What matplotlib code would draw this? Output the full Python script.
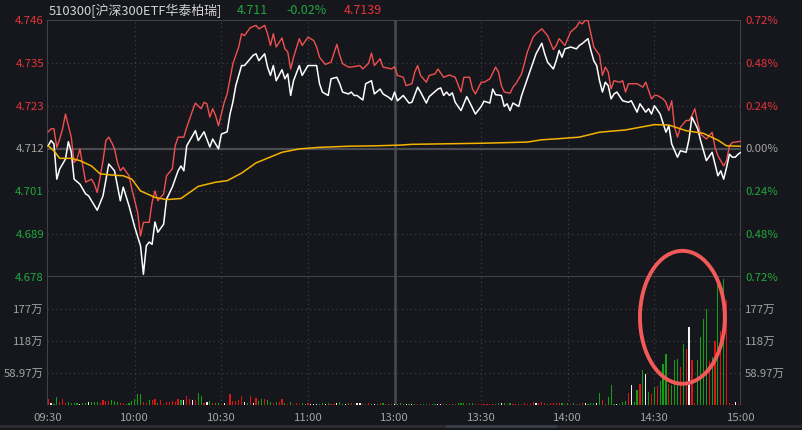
import numpy as np
import matplotlib.pyplot as plt
from matplotlib.patches import Ellipse
from matplotlib.lines import Line2D

plt.rcParams['font.family'] = ['Noto Sans CJK SC', 'DejaVu Sans']

# --- data ---
PRE_CLOSE = 4.712
MAX_PCT = 0.72

title_text = "510300[沪深300ETF华泰柏瑞]"
last_price = "4.711"
last_pct = "-0.02%"
iopv_last = "4.7139"

time_ticks = [0, 30, 60, 90, 120, 150, 180, 210, 240]
time_labels = ["09:30", "10:00", "10:30", "11:00", "13:00", "13:30", "14:00", "14:30", "15:00"]
pct_ticks = [0.72, 0.48, 0.24, 0.0, -0.24, -0.48, -0.72]
vol_ticks = [58.97, 118, 177]
vol_labels = ["58.97万", "118万", "177万"]

# ETF price (white)
etf_min = [0, 1, 2, 3, 4, 6, 7, 8, 9, 11, 13, 14, 17, 19, 21, 23, 25, 26, 28, 30,
           32, 33, 34, 35, 36, 37, 38, 40, 41, 43, 45, 46, 47, 48, 51, 52, 54, 56, 57, 59,
           60, 62, 63, 64, 65, 67, 68, 70, 71, 72, 73, 75, 76, 77, 78, 79, 81, 82, 83, 84,
           85, 87, 88, 90, 93, 94, 95, 97, 98, 100, 101, 102, 104, 105, 106, 107, 109, 110, 112, 113,
           115, 116, 118, 119, 120, 121, 123, 125, 126, 128, 129, 131, 132, 135, 136, 137, 138, 139, 140, 141,
           143, 145, 146, 148, 150, 151, 153, 154, 155, 157, 158, 159, 160, 161, 163, 164, 166, 168, 169, 171,
           172, 173, 175, 176, 177, 178, 179, 181, 183, 184, 185, 187, 188, 189, 190, 191, 192, 193, 194, 195,
           196, 197, 199, 201, 202, 204, 205, 207, 208, 209, 210, 212, 214, 215, 216, 218, 219, 221, 222, 223,
           225, 226, 228, 230, 232, 233, 234, 235, 236, 237, 238, 239, 240]
etf_px = [4.7127, 4.7141, 4.7132, 4.7039, 4.7066, 4.7092, 4.7138, 4.7111, 4.7039, 4.7026,
          4.7000, 4.6995, 4.6957, 4.6995, 4.7079, 4.7061, 4.6982, 4.7018, 4.6969, 4.6912,
          4.6863, 4.6788, 4.6863, 4.6873, 4.6867, 4.6926, 4.6899, 4.6920, 4.6986, 4.7018,
          4.7061, 4.7074, 4.7061, 4.7127, 4.7167, 4.7141, 4.7164, 4.7124, 4.7145, 4.7119,
          4.7158, 4.7164, 4.7211, 4.7243, 4.7286, 4.7339, 4.7339, 4.7357, 4.7366, 4.7370,
          4.7352, 4.7370, 4.7335, 4.7313, 4.7339, 4.7299, 4.7328, 4.7304, 4.7317, 4.7260,
          4.7299, 4.7339, 4.7313, 4.7339, 4.7339, 4.7291, 4.7269, 4.7260, 4.7304, 4.7308,
          4.7291, 4.7269, 4.7264, 4.7269, 4.7260, 4.7260, 4.7248, 4.7291, 4.7299, 4.7264,
          4.7277, 4.7264, 4.7255, 4.7248, 4.7269, 4.7246, 4.7260, 4.7240, 4.7242, 4.7282,
          4.7269, 4.7240, 4.7257, 4.7277, 4.7280, 4.7260, 4.7269, 4.7260, 4.7267, 4.7242,
          4.7220, 4.7257, 4.7242, 4.7211, 4.7231, 4.7245, 4.7240, 4.7277, 4.7262, 4.7260,
          4.7231, 4.7238, 4.7220, 4.7240, 4.7231, 4.7260, 4.7304, 4.7348, 4.7370, 4.7398,
          4.7370, 4.7348, 4.7330, 4.7352, 4.7379, 4.7361, 4.7383, 4.7388, 4.7383, 4.7392,
          4.7397, 4.7410, 4.7379, 4.7352, 4.7339, 4.7299, 4.7269, 4.7295, 4.7286, 4.7251,
          4.7264, 4.7269, 4.7246, 4.7242, 4.7246, 4.7216, 4.7238, 4.7216, 4.7225, 4.7211,
          4.7233, 4.7211, 4.7163, 4.7180, 4.7132, 4.7097, 4.7114, 4.7110, 4.7145, 4.7203,
          4.7172, 4.7141, 4.7088, 4.7110, 4.7048, 4.7061, 4.7039, 4.7070, 4.7105, 4.7097,
          4.7097, 4.7105, 4.7110]

# IOPV (red)
iopv_min = [0, 1, 2, 3, 4, 5, 6, 7, 8, 9, 10, 11, 12, 13, 15, 16, 17, 18, 19, 20,
            21, 22, 23, 24, 25, 26, 28, 29, 30, 31, 32, 33, 35, 36, 37, 38, 40, 41, 43, 44,
            45, 47, 48, 50, 51, 53, 54, 55, 56, 57, 58, 59, 60, 61, 62, 64, 66, 67, 68, 70,
            72, 73, 75, 76, 77, 78, 79, 81, 82, 83, 84, 85, 87, 88, 90, 92, 93, 94, 96, 98,
            100, 101, 102, 104, 105, 108, 109, 111, 112, 113, 115, 116, 119, 120, 121, 123, 124, 126, 127, 128,
            129, 131, 132, 134, 135, 137, 139, 141, 143, 144, 146, 147, 148, 150, 151, 153, 155, 156, 157, 158,
            160, 161, 162, 164, 166, 168, 169, 171, 173, 175, 176, 177, 179, 181, 183, 184, 185, 186, 187, 188,
            189, 191, 192, 193, 194, 195, 196, 198, 199, 200, 201, 203, 204, 206, 207, 208, 209, 210, 211, 213,
            214, 215, 216, 217, 218, 219, 221, 222, 223, 224, 225, 226, 228, 229, 230, 231, 232, 234, 235, 236,
            237, 240]
iopv_px = [4.7164, 4.7172, 4.7172, 4.7123, 4.7145, 4.7172, 4.7211, 4.7180, 4.7150, 4.7083,
           4.7092, 4.7119, 4.7074, 4.7031, 4.7039, 4.7026, 4.7004, 4.7044, 4.7088, 4.7141,
           4.7150, 4.7136, 4.7119, 4.7083, 4.7061, 4.7070, 4.7048, 4.7013, 4.6982, 4.6951,
           4.6889, 4.6925, 4.6925, 4.6978, 4.7008, 4.6982, 4.7000, 4.7048, 4.7066, 4.7127,
           4.7150, 4.7150, 4.7176, 4.7220, 4.7240, 4.7225, 4.7242, 4.7238, 4.7203, 4.7225,
           4.7207, 4.7180, 4.7211, 4.7242, 4.7264, 4.7344, 4.7388, 4.7423, 4.7418, 4.7439,
           4.7445, 4.7436, 4.7445, 4.7423, 4.7392, 4.7423, 4.7388, 4.7412, 4.7383, 4.7375,
           4.7330, 4.7361, 4.7410, 4.7392, 4.7414, 4.7405, 4.7388, 4.7361, 4.7342, 4.7348,
           4.7395, 4.7366, 4.7344, 4.7335, 4.7335, 4.7339, 4.7330, 4.7345, 4.7372, 4.7339,
           4.7357, 4.7335, 4.7330, 4.7336, 4.7313, 4.7308, 4.7286, 4.7291, 4.7322, 4.7339,
           4.7313, 4.7295, 4.7313, 4.7317, 4.7330, 4.7308, 4.7314, 4.7308, 4.7269, 4.7308,
           4.7308, 4.7277, 4.7264, 4.7295, 4.7295, 4.7304, 4.7335, 4.7322, 4.7286, 4.7269,
           4.7266, 4.7282, 4.7291, 4.7317, 4.7375, 4.7414, 4.7423, 4.7436, 4.7418, 4.7381,
           4.7392, 4.7410, 4.7392, 4.7428, 4.7441, 4.7454, 4.7449, 4.7458, 4.7458, 4.7423,
           4.7388, 4.7366, 4.7313, 4.7335, 4.7322, 4.7277, 4.7299, 4.7295, 4.7299, 4.7269,
           4.7291, 4.7291, 4.7291, 4.7282, 4.7295, 4.7273, 4.7251, 4.7260, 4.7260, 4.7251,
           4.7242, 4.7220, 4.7246, 4.7176, 4.7150, 4.7176, 4.7194, 4.7194, 4.7207, 4.7225,
           4.7189, 4.7158, 4.7145, 4.7154, 4.7163, 4.7123, 4.7101, 4.7074, 4.7088, 4.7127,
           4.7136, 4.7139]

# average price (yellow)
avg_min = [0, 2, 4, 8, 11, 15, 18, 22, 26, 29, 32, 37, 41, 46, 52, 58, 62, 67, 72, 81,
           87, 94, 104, 113, 122, 126, 151, 166, 171, 177, 184, 191, 200, 210, 215, 221, 227, 232, 235, 240]
avg_px = [4.7127, 4.7114, 4.7094, 4.7094, 4.7088, 4.7074, 4.7053, 4.7050, 4.7048, 4.7039,
          4.7008, 4.6991, 4.6985, 4.6988, 4.7020, 4.7031, 4.7035, 4.7055, 4.7082, 4.7110,
          4.7119, 4.7123, 4.7126, 4.7127, 4.7129, 4.7131, 4.7134, 4.7137, 4.7143, 4.7146,
          4.7150, 4.7163, 4.7169, 4.7183, 4.7182, 4.7167, 4.7160, 4.7142, 4.7127, 4.7126]

# per-minute volume (万), 241 bars, colour code r=up g=down w=flat
volume = [11, 3.7, 1.5, 14, 6, 11, 4.5, 5.5, 3.7, 3.7,
          3.7, 2.5, 3.7, 3.7, 5.5, 5.5, 5.5, 5.5, 3.7, 9.2,
          7.4, 7.4, 9.2, 7.4, 5.5, 3.7, 3.7, 1.8, 3.7, 7.4,
          11.7, 20, 20, 5.5, 3.7, 9.2, 9.2, 11, 3.7, 9.2,
          2.5, 5.5, 5.5, 7.4, 5.5, 11, 9.2, 9.2, 16, 11,
          9.2, 9.2, 22, 16.6, 3.7, 6, 7.4, 3.7, 3.7, 3.7,
          1.8, 3.7, 1.8, 20, 7.4, 7.4, 9.2, 16.6, 5.5, 3.7,
          16.6, 3.7, 12.9, 7.4, 11, 11, 9.2, 5.5, 3.7, 5.5,
          5.5, 11, 3.7, 1.8, 5.5, 1.8, 3.7, 1.8, 3.7, 1.8,
          3.7, 1.8, 1.8, 1.8, 1.8, 3.7, 1.8, 3.7, 1.8, 1.8,
          3.7, 5.5, 1.8, 1.8, 3.7, 3.7, 1.8, 3.7, 3.7, 1.8,
          1.8, 3.7, 1.8, 1.8, 1.8, 3.7, 3.7, 1.8, 1.8, 1.8,
          1.8, 1.8, 3.7, 1.0, 1.8, 1.0, 1.8, 1.8, 1.8, 1.8,
          1.8, 1.8, 1.8, 1.8, 1.8, 1.8, 1.8, 1.8, 1.8, 1.8,
          1.8, 1.8, 3.7, 3.7, 3.7, 1.8, 3.7, 3.7, 1.8, 1.8,
          1.8, 1.8, 1.8, 1.8, 1.8, 1.8, 3.7, 3.7, 3.7, 1.8,
          3.7, 1.8, 1.8, 1.8, 1.8, 3.7, 1.8, 1.8, 5.5, 3.7,
          3.7, 5.5, 3.7, 1.8, 3.7, 3.7, 3.7, 3.7, 3.7, 1.8,
          3.7, 1.8, 3.7, 1.8, 1.8, 3.7, 3.7, 1.8, 3.7, 3.7,
          3.7, 23, 10, 1.8, 14, 37, 1.8, 1.8, 1.8, 6,
          8, 22, 36, 5, 28, 39, 64.5, 57, 24.6, 20,
          33.8, 35.6, 44.9, 75.6, 94, 39, 36, 83, 84.8, 70.6,
          112, 103, 143, 83, 3.7, 83, 125, 158, 177, 81,
          88, 118, 223, 137, 233, 193, 3.7, 1.8, 6, 1.8,
          1.0]
vol_dir = ("rwggrrrgggg"  # 0-10
           "wggwgggrrrr"  # 11-21
           "gggrrgggggg"  # 22-32
           "rrgrrgrrrrr"  # 33-43
           "rrgwrrwrggr"  # 44-54
           "wgrggrwrrrr"  # 55-65
           "rrwgrwrggrg"  # 66-76
           "grgrrgrgrrr"  # 77-87
           "ggrwwwggwgr"  # 88-98
           "rwggwgrrwwg"  # 99-109
           "rrgwgrgrgrw"  # 110-120
           "ggrwgwgrggg"  # 121-131
           "rggwwrgrgrg"  # 132-142
           "ggrggrrrrrr"  # 143-153
           "grgwgrgrrgr"  # 154-164
           "rrrrwrrrgrr"  # 165-175
           "rrgrgrgrgrw"  # 176-186
           "gggwgrggggw"  # 187-197
           "gggrwggrgwg"  # 198-208
           "rgrgggrgggr"  # 209-219
           "grwrrggggrg"  # 220-230
           "rgrgrrrwrr")  # 231-240

# --- styling ---
BG = '#15171c'
GRID = '#3a3d44'
FRAME = '#4a4c52'
GRAY_TXT = '#a3a3a3'
RED_TXT = '#e8333b'
GREEN_TXT = '#22a83c'
COL = {'r': '#e01212', 'g': '#12a012', 'w': '#f2f2f2'}

W, H = 802, 431
fig = plt.figure(figsize=(W / 100, H / 100), dpi=100)
fig.patch.set_facecolor(BG)

ax = fig.add_axes([47 / W, 1 - 278 / H, 694 / W, 257 / H])
axv = fig.add_axes([47 / W, 1 - 406 / H, 694 / W, 128 / H])

lo = PRE_CLOSE * (1 - MAX_PCT / 100)
hi = PRE_CLOSE * (1 + MAX_PCT / 100)
vol_top = 4 * 58.97

for a in (ax, axv):
    a.set_facecolor(BG)
    a.set_xlim(-0.4, 240)
    a.set_xticks([])
    a.set_yticks([])
    for s in a.spines.values():
        s.set_visible(False)
    a.axvline(-0.4, color=FRAME, lw=1.2)
    a.axvline(240, color=FRAME, lw=1.2)
    for t in time_ticks[1:-1]:
        if t == 120:
            a.axvline(t, color=FRAME, lw=1.8)
        else:
            a.axvline(t, color=GRID, lw=0.9, dashes=(1, 2.5))

ax.set_ylim(lo, hi)
axv.set_ylim(0, vol_top)

# horizontal grid of price panel
for p in pct_ticks:
    y = PRE_CLOSE * (1 + p / 100)
    if p == 0:
        ax.axhline(y, color=FRAME, lw=1.6)
    elif abs(p) == MAX_PCT:
        ax.axhline(y, color=FRAME, lw=1.2)
    else:
        ax.axhline(y, color=GRID, lw=0.9, dashes=(1, 2.5))
for v in vol_ticks:
    axv.axhline(v, color=GRID, lw=0.9, dashes=(1, 2.5))

# price lines
ax.plot(iopv_min, iopv_px, color='#f0504f', lw=1.0, zorder=3)
ax.plot(etf_min, etf_px, color='#ffffff', lw=1.1, zorder=4)
ax.plot(avg_min, avg_px, color='#f5b300', lw=1.1, zorder=5)

# volume bars
bar_cols = [COL[d] for d in vol_dir]
axv.bar(np.arange(len(volume)), volume, width=0.4, color=bar_cols, zorder=3)

# price / percent labels
ytr = ax.get_yaxis_transform()
for p in pct_ticks:
    y = PRE_CLOSE * (1 + p / 100)
    c = RED_TXT if p > 0 else (GREEN_TXT if p < 0 else GRAY_TXT)
    ax.text(-0.0045, y, f"{y:.3f}", transform=ytr, ha='right', va='center',
            color=c, fontsize=8.2)
    ax.text(1.0058, y, f"{abs(p):.2f}%", transform=ytr, ha='left', va='center',
            color=c, fontsize=8.2)

vtr = axv.get_yaxis_transform()
for v, lab in zip(vol_ticks, vol_labels):
    axv.text(-0.0045, v, lab, transform=vtr, ha='right', va='center',
             color=GRAY_TXT, fontsize=8.2)
    axv.text(1.0058, v, lab, transform=vtr, ha='left', va='center',
             color=GRAY_TXT, fontsize=8.2)

xtr = axv.get_xaxis_transform()
for t, lab in zip(time_ticks, time_labels):
    axv.text(t, -0.094, lab, transform=xtr, ha='center', va='center',
             color=GRAY_TXT, fontsize=8.2)

# header
fig.text(49 / W, 1 - 10.5 / H, title_text, color='#d2d2d2', fontsize=9.3,
         ha='left', va='center')
fig.text(236.5 / W, 1 - 10.5 / H, last_price, color=GREEN_TXT, fontsize=9.0,
         ha='left', va='center')
fig.text(286 / W, 1 - 10.5 / H, last_pct, color=GREEN_TXT, fontsize=9.0,
         ha='left', va='center')
fig.text(344 / W, 1 - 10.5 / H, iopv_last, color=RED_TXT, fontsize=9.0,
         ha='left', va='center')

# red circle annotation over the late-session volume
ell = Ellipse((219.7, 161.6), width=29.4, height=245, fill=False,
              edgecolor='#f25a5a', lw=2.8, clip_on=False, zorder=6,
              transform=axv.transData)
axv.add_patch(ell)

# bottom window separator
fig.add_artist(Line2D([0, 1], [1 - 427 / H, 1 - 427 / H], transform=fig.transFigure,
                      color='#2b2d33', lw=2))
fig.add_artist(Line2D([447 / W, 555 / W], [1 - 427 / H, 1 - 427 / H],
                      transform=fig.transFigure, color='#3c3e45', lw=2))

fig.savefig('out.png', dpi=100, facecolor=BG)
